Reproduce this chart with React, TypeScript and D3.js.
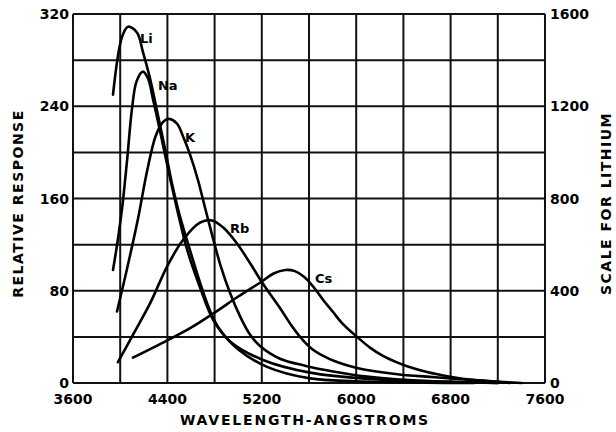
import React from "react";
import * as d3 from "d3";

type Pt = [number, number];

const liValues: Pt[] = [
  [3939, 250], [4015, 300], [4066, 309], [4142, 304], [4193, 287], [4253, 264],
  [4312, 236], [4380, 203], [4439, 173], [4500, 147], [4592, 115], [4680, 86],
  [4760, 63], [4840, 47], [4990, 30], [5244, 14], [5609, 4], [6000, 1.5],
  [6600, 0.3], [7000, 0],
];
const naValues: Pt[] = [
  [3939, 98], [3981, 125], [4020, 155], [4060, 195], [4100, 238], [4140, 262],
  [4193, 270], [4236, 264], [4278, 246], [4330, 222], [4380, 198], [4439, 170],
  [4500, 143], [4566, 116], [4676, 83], [4787, 55], [4931, 36], [5210, 20],
  [5609, 9], [6117, 3.5], [6795, 1], [7200, 0],
];
const kValues: Pt[] = [
  [3973, 62], [4060, 100], [4150, 142], [4230, 185], [4300, 214], [4360, 226],
  [4405, 229], [4481, 225], [4532, 214], [4592, 198], [4659, 176], [4719, 152],
  [4780, 128], [4850, 102], [4931, 78], [5015, 58], [5100, 42], [5185, 32],
  [5354, 21], [5566, 15], [5804, 10], [6092, 5.5], [6371, 3], [6795, 1], [7200, 0],
];
const rbValues: Pt[] = [
  [3981, 18], [4109, 42], [4253, 69], [4397, 101], [4532, 124], [4676, 139],
  [4778, 141], [4871, 135], [4990, 121], [5100, 104], [5210, 86], [5354, 65],
  [5450, 50], [5524, 40], [5620, 30], [5750, 22], [5900, 16], [6007, 13],
  [6200, 9.5], [6400, 7], [6600, 5.5], [6800, 4], [7000, 2.5], [7219, 1], [7400, 0],
];
const csValues: Pt[] = [
  [4108, 22], [4400, 37], [4600, 48], [4800, 61], [5000, 75], [5200, 88],
  [5300, 95], [5400, 98], [5480, 97], [5560, 92], [5640, 83], [5720, 72],
  [5800, 62], [5880, 52], [6007, 40], [6120, 30.5], [6227, 23.5], [6330, 18.5],
  [6431, 14.5], [6600, 9.5], [6795, 5.5], [7000, 2.5], [7193, 1], [7300, 0],
];

const seriesNames = ["Li", "Na", "K", "Rb", "Cs"];
const seriesValues = [liValues, naValues, kValues, rbValues, csValues];
const labelAnchors: Pt[] = [[4168, 295], [4320, 254], [4549, 209], [4931, 130], [5651, 87]];

const xTicks = [3600, 4400, 5200, 6000, 6800, 7600];
const xGrid = [3600, 4000, 4400, 4800, 5200, 5600, 6000, 6400, 6800, 7200, 7600];
const yTicks = [0, 80, 160, 240, 320];
const yGrid = [0, 40, 80, 120, 160, 200, 240, 280, 320];
const y2Ticks = [0, 400, 800, 1200, 1600];

const xTitle = "WAVELENGTH-ANGSTROMS";
const yTitle = "RELATIVE RESPONSE";
const y2Title = "SCALE FOR LITHIUM";

const FONT = "'DejaVu Sans', 'Liberation Sans', sans-serif";

export default function App() {
  const W = 616, H = 432;
  const x = d3.scaleLinear().domain([3600, 7600]).range([73, 545]);
  const y = d3.scaleLinear().domain([0, 320]).range([383, 14]);
  const y2 = d3.scaleLinear().domain([0, 1600]).range([383, 14]);
  const line = d3
    .line<Pt>()
    .x((d) => x(d[0]))
    .y((d) => y(d[1]))
    .curve(d3.curveCatmullRom.alpha(0.5));

  return (
    <svg
      width={W}
      height={H}
      style={{ position: "absolute", left: 0, top: 0, background: "#fff" }}
    >
      <rect x={0} y={0} width={W} height={H} fill="#fff" />
      <g stroke="#111" strokeWidth={2}>
        {xGrid.map((v) => (
          <line key={"gx" + v} x1={x(v)} x2={x(v)} y1={y(0)} y2={y(320)} />
        ))}
        {yGrid.map((v) => (
          <line key={"gy" + v} x1={x(3600)} x2={x(7600)} y1={y(v)} y2={y(v)} />
        ))}
      </g>
      <g fill="none" stroke="#000" strokeWidth={2.6} strokeLinejoin="round" strokeLinecap="round">
        {seriesValues.map((s, i) => (
          <path key={seriesNames[i]} d={line(s) || ""} />
        ))}
      </g>
      <g fontFamily={FONT} fontWeight="bold" fontSize={13} fill="#000">
        {seriesNames.map((n, i) => (
          <text key={"l" + n} x={x(labelAnchors[i][0])} y={y(labelAnchors[i][1])}>
            {n}
          </text>
        ))}
      </g>
      <g fontFamily={FONT} fontWeight="bold" fontSize={14} fill="#000">
        {yTicks.map((v) => (
          <text key={"yt" + v} x={69} y={y(v)} dy="0.36em" textAnchor="end">
            {v}
          </text>
        ))}
        {y2Ticks.map((v) => (
          <text key={"y2t" + v} x={550} y={y2(v)} dy="0.36em" textAnchor="start">
            {v}
          </text>
        ))}
        {xTicks.map((v) => (
          <text key={"xt" + v} x={x(v)} y={404} textAnchor="middle">
            {v}
          </text>
        ))}
        <text x={305} y={425} textAnchor="middle" letterSpacing={1.8}>
          {xTitle}
        </text>
        <text
          transform={`translate(23,${(y(0) + y(320)) / 2 + 5}) rotate(-90)`}
          textAnchor="middle"
          letterSpacing={1.5}
        >
          {yTitle}
        </text>
        <text
          transform={`translate(611,${(y(0) + y(320)) / 2 + 5}) rotate(-90)`}
          textAnchor="middle"
          letterSpacing={1.5}
        >
          {y2Title}
        </text>
      </g>
    </svg>
  );
}
